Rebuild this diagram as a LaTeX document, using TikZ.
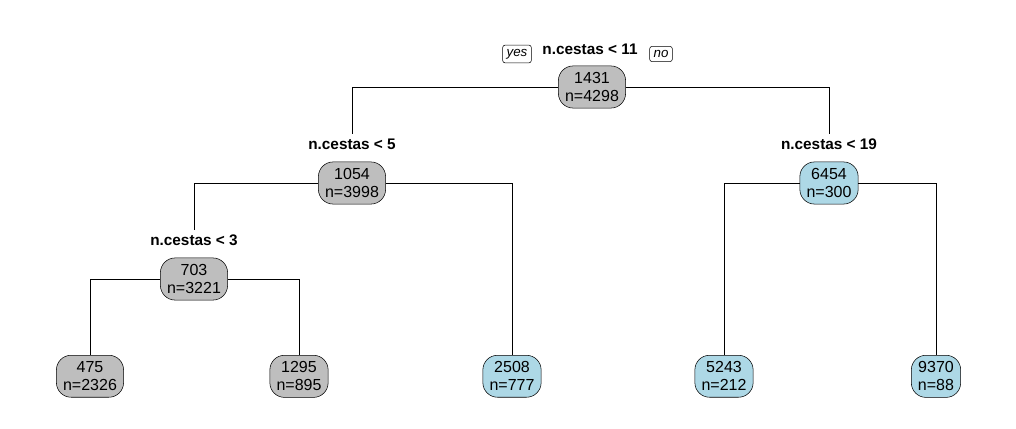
\documentclass[tikz,border=0pt]{standalone}
\usepackage{fontspec}
\setmainfont{Liberation Sans}
\usepackage{xcolor}
\usetikzlibrary{positioning}

\definecolor{boxgray}{RGB}{190,190,190}
\definecolor{boxblue}{RGB}{173,216,230}

\begin{document}
\begin{tikzpicture}[x=0.75pt, y=-0.75pt,
    treenode/.style={draw, rounded corners=11pt, align=center, inner xsep=5pt, inner ysep=4.8pt,
        font=\fontsize{12}{13.5}\selectfont},
    graynode/.style={treenode, fill=boxgray},
    bluenode/.style={treenode, fill=boxblue},
    splitlabel/.style={font=\bfseries\fontsize{11.5}{13.5}\selectfont, inner sep=3pt},
    yesno/.style={draw, rounded corners=2pt, font=\itshape\fontsize{10}{11}\selectfont, inner xsep=3pt, inner ysep=3pt}]
    \useasboundingbox (0,0) rectangle (1016,428);

    % Split labels
    \node[splitlabel] (lab1) at (590,49) {n.cestas < 11};
    \node[splitlabel] (lab2) at (352,144) {n.cestas < 5};
    \node[splitlabel] (lab3) at (194,240) {n.cestas < 3};
    \node[splitlabel] (lab4) at (829,144) {n.cestas < 19};
    \node[yesno] (yes) at (517,54) {yes};
    \node[yesno] (no) at (661,54) {no};

    % Inner nodes
    \node[graynode] (root) at (592,87) {1431\\n=4298};
    \node[graynode] (n2) at (352,183) {1054\\n=3998};
    \node[graynode] (n3) at (194,279) {703\\n=3221};
    \node[bluenode] (n4) at (829,183) {6454\\n=300};

    % Leaves
    \node[graynode, anchor=north] (leaf1) at (90,355) {475\\n=2326};
    \node[graynode, anchor=north] (leaf2) at (299,355) {1295\\n=895};
    \node[bluenode, anchor=north] (leaf3) at (512,355) {2508\\n=777};
    \node[bluenode, anchor=north] (leaf4) at (724,355) {5243\\n=212};
    \node[bluenode, anchor=north] (leaf5) at (936,355) {9370\\n=88};

    % Branches
    \draw (root.west) -| (lab2.north);
    \draw (root.east) -| (lab4.north);
    \draw (n2.west) -| (lab3.north);
    \draw (n2.east) -| (leaf3.north);
    \draw (n3.west) -| (leaf1.north);
    \draw (n3.east) -| (leaf2.north);
    \draw (n4.west) -| (leaf4.north);
    \draw (n4.east) -| (leaf5.north);
\end{tikzpicture}
\end{document}
